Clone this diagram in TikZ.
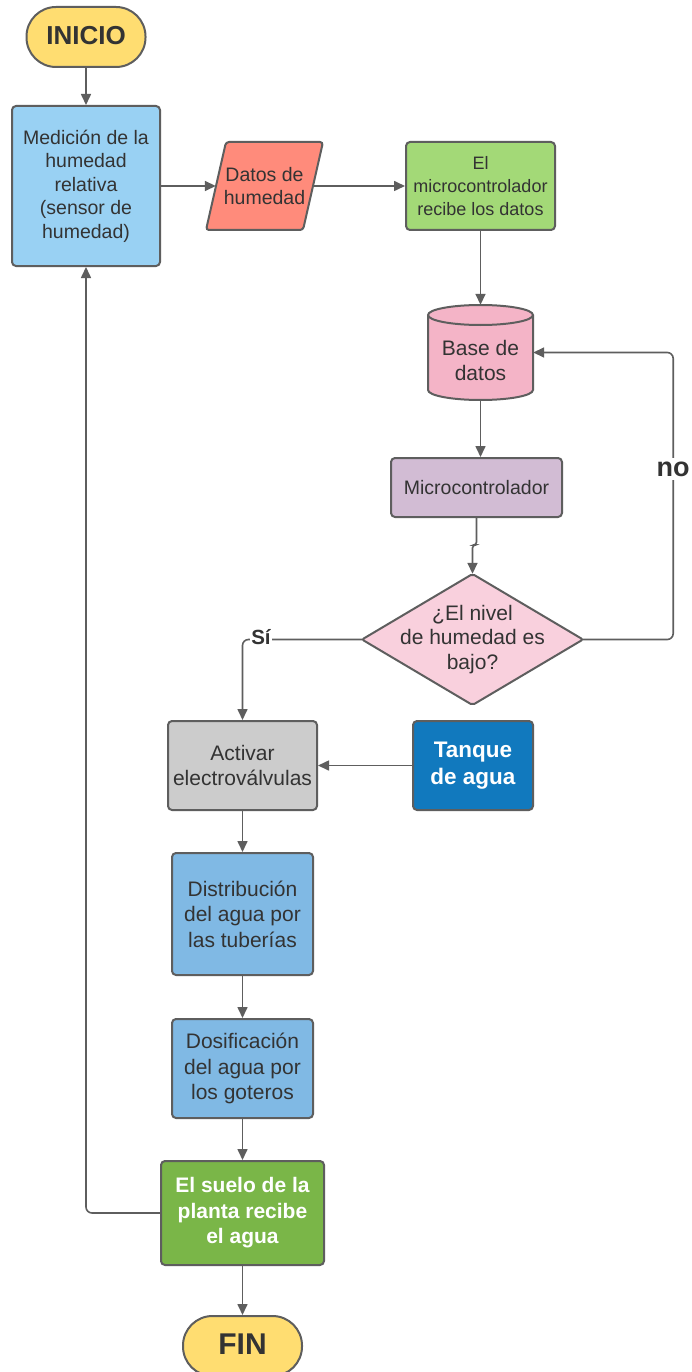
\documentclass[tikz,border=0pt]{standalone}
\usepackage{fontspec}
\setmainfont{Liberation Sans}
\usetikzlibrary{arrows.meta}
\definecolor{linec}{HTML}{5E5E5E}
\definecolor{txtc}{HTML}{333333}
\definecolor{cyel}{HTML}{FFDD71}
\definecolor{cmed}{HTML}{99D1F3}
\definecolor{cdat}{HTML}{FF8B7B}
\definecolor{crec}{HTML}{A3D977}
\definecolor{cdb}{HTML}{F4B4C7}
\definecolor{cmic}{HTML}{D2BCD4}
\definecolor{cdia}{HTML}{F9D0DD}
\definecolor{cact}{HTML}{CCCCCC}
\definecolor{ctan}{HTML}{1179BE}
\definecolor{cdis}{HTML}{80B9E4}
\definecolor{csue}{HTML}{7AB648}
\newcommand\fsz[2]{\fontsize{#1}{#2}\selectfont}
\begin{document}
\begin{tikzpicture}[x=1pt,y=-1pt,
  boxst/.style={draw=linec, line width=2pt, rounded corners=4pt, align=center, text=txtc, inner sep=0pt},
  ghost/.style={align=center, text=txtc, inner sep=0pt},
  stad/.style={draw=linec, line width=2pt, rounded corners=29.5pt, fill=cyel, text=txtc, inner sep=0pt, minimum width=119pt, minimum height=60pt, font=\bfseries},
  conn/.style={draw=linec, line width=1.6pt, rounded corners=6pt, -{Triangle[length=11pt,width=10pt]}},
  lbl/.style={fill=white, text=txtc, font=\bfseries, inner sep=2pt}
]
\useasboundingbox (0,0) rectangle (692,1372);
\fill[white] (0,0) rectangle (692,1372);

% start
\node[stad, font=\bfseries\fsz{26}{30}] (ini) at (86,37) {\raisebox{3pt}{INICIO}};

% measurement
\node[boxst, fill=cmed, minimum width=148pt, minimum height=160pt, font=\fsz{19.5}{23.5}] (med) at (86,186)
  {Medición de la\\humedad\\relativa\\(sensor de\\humedad)};

% data parallelogram
\draw[draw=linec, line width=2pt, fill=cdat, rounded corners=3pt]
  (226,142) -- (323,142) -- (303,230) -- (206,230) -- cycle;
\node[ghost, minimum width=97pt, minimum height=88pt, font=\fsz{19.5}{23.5}] (dat) at (264.5,186) {Datos de\\humedad};

% receive
\node[boxst, fill=crec, minimum width=149pt, minimum height=88pt, font=\fsz{18}{23}] (rec) at (480.5,186)
  {El\\microcontrolador\\recibe los datos};

% database cylinder
\draw[draw=linec, line width=2pt, fill=cdb]
  (428,315) -- (428,390) arc[start angle=180, end angle=360, x radius=52.5pt, y radius=10pt]
  -- (533,315) arc[start angle=0, end angle=180, x radius=52.5pt, y radius=10pt] -- cycle;
\draw[draw=linec, line width=2pt] (428,315) arc[start angle=180, end angle=360, x radius=52.5pt, y radius=10pt];
\node[ghost, minimum width=105pt, minimum height=95pt] (db) at (480.5,352.5) {};
\node[ghost, font=\fsz{21}{25}] (dbtext) at (480.5,360) {Base de\\datos};

% microcontroller
\node[boxst, fill=cmic, minimum width=171pt, minimum height=59pt, font=\fsz{19.5}{23.5}] (mic) at (476.5,487.5) {Microcontrolador};

% decision
\draw[draw=linec, line width=2pt, fill=cdia, rounded corners=2pt]
  (472.5,574) -- (583,639.5) -- (472.5,705) -- (362,639.5) -- cycle;
\node[ghost, minimum width=221pt, minimum height=131pt, font=\fsz{21}{24.5}] (dia) at (472.5,639.5)
  {¿El nivel\\de humedad es\\bajo?};

% activate valves
\node[boxst, fill=cact, minimum width=149pt, minimum height=89pt, font=\fsz{21}{25}] (act) at (242.5,765.5)
  {Activar\\electroválvulas};

% tank
\node[boxst, fill=ctan, text=white, minimum width=120pt, minimum height=89pt, font=\bfseries\fsz{22.5}{27}] (tan) at (473,765.5)
  {Tanque\\de agua};

% distribution
\node[boxst, fill=cdis, minimum width=141pt, minimum height=122pt, font=\fsz{21}{25.5}] (dis) at (242.5,914)
  {Distribución\\del agua por\\las tuberías};

% dosing
\node[boxst, fill=cdis, minimum width=141pt, minimum height=99pt, font=\fsz{21}{25.5}] (dos) at (242.5,1068.5)
  {Dosificación\\del agua por\\los goteros};

% soil
\node[boxst, fill=csue, text=white, minimum width=163pt, minimum height=104pt, font=\bfseries\fsz{21}{25.5}] (sue) at (242.5,1213)
  {El suelo de la\\planta recibe\\el agua};

% end
\node[stad, font=\bfseries\fsz{30}{34}] (fin) at (242.5,1346) {\raisebox{4pt}{FIN}};

% connectors
\draw[conn] (ini.south) -- (med.north);
\draw[conn] (med.east) -- (dat.west);
\draw[conn] (313,186) -- (rec.west);
\draw[conn] (rec.south) -- (db.north);
\draw[conn] (db.south) -- (db.south |- mic.north);
\draw[conn, rounded corners=3pt] (mic.south) -- ++(0,27) -| (dia.north);
\draw[conn] (dia.east) -- ++(90,0) |- (db.east);
\node[lbl, font=\bfseries\fsz{27}{30}, inner sep=4pt] (no) at (673,469) {no};
\draw[conn] (dia.west) -| (act.north);
\node[lbl, font=\bfseries\fsz{20.5}{24}, inner sep=1.5pt] (si) at (261,637) {Sí};
\draw[conn] (tan.west) -- (act.east);
\draw[conn] (act.south) -- (dis.north);
\draw[conn] (dis.south) -- (dos.north);
\draw[conn] (dos.south) -- (sue.north);
\draw[conn] (sue.south) -- (fin.north);
\draw[conn] (sue.west) -| (med.south);
\end{tikzpicture}
\end{document}
